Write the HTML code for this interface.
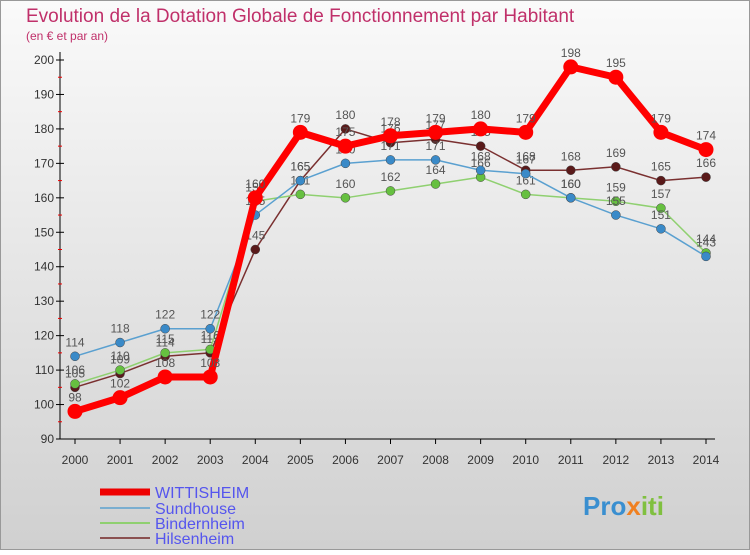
<!DOCTYPE html>
<html><head><meta charset="utf-8"><style>
body{margin:0;width:750px;height:550px;overflow:hidden;font-family:"Liberation Sans",sans-serif}
</style></head><body>
<svg id="c" width="750" height="550" xmlns="http://www.w3.org/2000/svg">
<defs><linearGradient id="bg" x1="0" y1="0" x2="0" y2="1"><stop offset="0" stop-color="#fafafa"/><stop offset="1" stop-color="#d0d0d0"/></linearGradient></defs>
<rect x="0.5" y="0.5" width="749" height="549" fill="url(#bg)" stroke="#999"/>
<text x="26" y="22" font-size="19" fill="#c0306a">Evolution de la Dotation Globale de Fonctionnement par Habitant</text>
<text x="26" y="40" font-size="12" fill="#c0306a">(en € et par an)</text>
<g id="axes"></g><g id="series"></g>
<g font-size="16" fill="#5555ee">
<line x1="100" y1="492" x2="150" y2="492" stroke="#e00" stroke-width="7"/>
<text x="155" y="498">WITTISHEIM</text>
<line x1="100" y1="508" x2="150" y2="508" stroke="#7aaed0" stroke-width="2"/>
<text x="155" y="514">Sundhouse</text>
<line x1="100" y1="523" x2="150" y2="523" stroke="#8fd070" stroke-width="2"/>
<text x="155" y="529">Bindernheim</text>
<line x1="100" y1="538" x2="150" y2="538" stroke="#8a5050" stroke-width="2"/>
<text x="155" y="544">Hilsenheim</text>
</g>
<text x="583" y="515" font-size="26" font-weight="bold" fill="#3a8fd0">Pro<tspan fill="#f08020">x</tspan><tspan fill="#80c040">iti</tspan></text>
</svg>
<script>
const years=[2000,2001,2002,2003,2004,2005,2006,2007,2008,2009,2010,2011,2012,2013,2014];
const wittisheim=[98,102,108,108,160,179,175,178,179,180,179,198,195,179,174];
const sundhouse=[114,118,122,122,155,165,170,171,171,168,167,160,155,151,143];
const bindernheim=[106,110,115,116,159,161,160,162,164,166,161,160,159,157,144];
const hilsenheim=[105,109,114,115,145,165,180,176,177,175,168,168,169,165,166];
const yTicks=[90,100,110,120,130,140,150,160,170,180,190,200];
const NS="http://www.w3.org/2000/svg";
const X=i=>75+i*(631/14), Y=v=>439-(v-90)*(379/110);
function mk(t,a,p){const e=document.createElementNS(NS,t);for(const k in a)e.setAttribute(k,a[k]);p.appendChild(e);return e;}
const ax=document.getElementById('axes');
let l=mk('line',{x1:60,y1:52,x2:60,y2:439,stroke:'#000'},ax);


l=mk('line',{x1:60,y1:439,x2:715,y2:439,stroke:'#000'},ax);


yTicks.forEach(v=>{const y=Y(v);
mk('line',{x1:56,y1:y,x2:64,y2:y,stroke:'#000'},ax);
if(v<200)mk('line',{x1:58,y1:Y(v+5),x2:62,y2:Y(v+5),stroke:'#e00'},ax);
const t=mk('text',{x:54,y:y+4,'font-size':12,'text-anchor':'end',fill:'#333'},ax);t.textContent=v;

});
years.forEach((yr,i)=>{mk('line',{x1:X(i),y1:439,x2:X(i),y2:444,stroke:'#000'},ax);
const t=mk('text',{x:X(i),y:464,'font-size':12,'text-anchor':'middle',fill:'#333'},ax);t.textContent=yr;

});
const sg=document.getElementById('series');
[[hilsenheim,'#7a3030','#5a1a1a',1.5,4.5,'hilsenheim'],[bindernheim,'#8fd070','#66c040',1.5,4.5,'bindernheim'],[sundhouse,'#5aa0d0','#3a8ac8',1.5,4.5,'sundhouse'],[wittisheim,'#f00','#f00',7,7.5,'wittisheim']].forEach(([d,c,mc,w,r,n])=>{
const g=mk('g',{},sg);


const p=mk('polyline',{points:d.map((v,i)=>X(i)+','+Y(v)).join(' '),fill:'none',stroke:c,'stroke-width':w,'stroke-linejoin':'round'},g);


d.forEach((v,i)=>{const m=mk('circle',{cx:X(i),cy:Y(v),r:r,fill:mc,stroke:w>2?'none':'#444','stroke-width':0.5},g);


const t=mk('text',{x:X(i),y:Y(v)-10,'font-size':12,'text-anchor':'middle',fill:'#555'},g);t.textContent=v;

});
});
</script>
</body></html>
